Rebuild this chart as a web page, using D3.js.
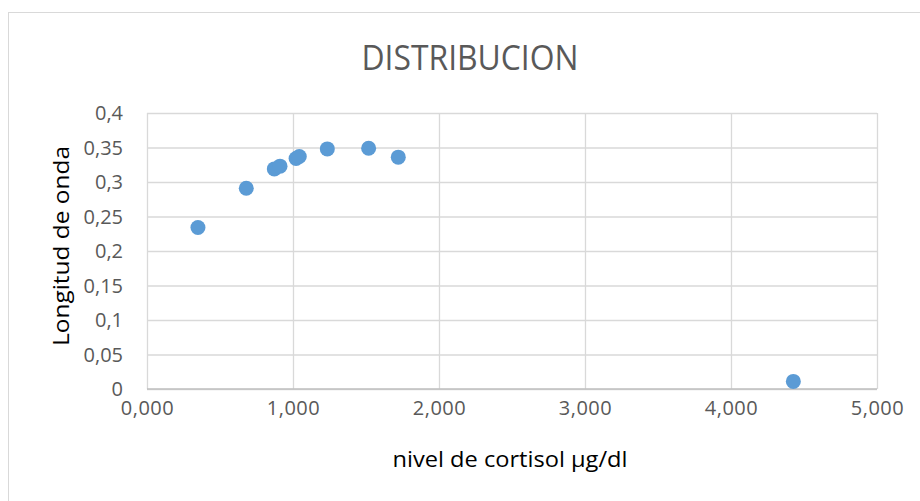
<!DOCTYPE html>
<html>
<head>
<meta charset="utf-8">
<script src="https://cdn.jsdelivr.net/npm/d3@7"></script>
<style>
  html, body { margin: 0; padding: 0; background: #fff; }
  svg { display: block; }
</style>
</head>
<body>
<script>
const titleText = "DISTRIBUCION";
const xTitle = "nivel de cortisol µg/dl";
const yTitle = "Longitud de onda";
const cortisol = [349, 680, 872, 911, 1021, 1043, 1235, 1518, 1721, 4427];
const longitud = [0.234, 0.291, 0.319, 0.323, 0.334, 0.337, 0.348, 0.349, 0.336, 0.011];
const xTicks = [0, 1000, 2000, 3000, 4000, 5000];
const yTicks = [0, 0.05, 0.1, 0.15, 0.2, 0.25, 0.3, 0.35, 0.4];

const W = 920, H = 501;
const svg = d3.select("body").append("svg").attr("width", W).attr("height", H);

// outer chart border
svg.append("rect").attr("x", 8.5).attr("y", 12.5).attr("width", 940).attr("height", 520)
  .attr("fill", "#fff").attr("stroke", "#d9d9d9").attr("stroke-width", 1);

const pL = 147, pR = 877, pT = 113, pB = 389;
const x = d3.scaleLinear().domain([0, 5000]).range([pL, pR]);
const y = d3.scaleLinear().domain([0, 0.4]).range([pB, pT]);

const fmtX = v => d3.format(".3f")(v / 1000).replace(".", ",");
const fmtY = v => String(+v.toFixed(2)).replace(".", ",");

// gridlines
const gy = svg.append("g").attr("transform", `translate(${pL},0)`)
  .call(d3.axisLeft(y).tickValues(yTicks).tickSize(-(pR - pL)).tickFormat(fmtY).tickPadding(24));
gy.select(".domain").remove();
gy.selectAll(".tick line").attr("stroke", "#d9d9d9").attr("stroke-width", 1.3);
gy.selectAll(".tick text").attr("fill", "#595959").attr("font-family", "Open Sans, sans-serif")
  .attr("font-size", 20).attr("dy", "0.34em");

const gx = svg.append("g").attr("transform", `translate(0,${pB})`)
  .call(d3.axisBottom(x).tickValues(xTicks).tickSize(-(pB - pT)).tickFormat(fmtX).tickPadding(12));
gx.select(".domain").remove();
gx.selectAll(".tick line").attr("stroke", "#d9d9d9").attr("stroke-width", 1.3);
gx.selectAll(".tick text").attr("fill", "#595959").attr("font-family", "Open Sans, sans-serif")
  .attr("font-size", 20).attr("letter-spacing", "0.5px");

// bottom axis line
svg.append("line").attr("x1", pL).attr("x2", pR).attr("y1", pB).attr("y2", pB)
  .attr("stroke", "#bfbfbf").attr("stroke-width", 1.5);

// points
svg.append("g").selectAll("circle").data(cortisol.map((c, i) => [c, longitud[i]]))
  .join("circle")
  .attr("cx", d => x(d[0])).attr("cy", d => y(d[1])).attr("r", 7.5)
  .attr("fill", "#5b9bd5");

// title
svg.append("text").attr("x", 470).attr("y", 70).attr("text-anchor", "middle")
  .attr("font-family", "Open Sans, sans-serif").attr("font-size", 34).attr("fill", "#595959")
  .attr("textLength", 217).attr("lengthAdjust", "spacingAndGlyphs").text(titleText);

// axis titles
svg.append("text").attr("x", 510).attr("y", 467).attr("text-anchor", "middle")
  .attr("font-family", "Open Sans, sans-serif").attr("font-size", 21).attr("fill", "#000")
  .attr("textLength", 235).attr("lengthAdjust", "spacingAndGlyphs").text(xTitle);

svg.append("text").attr("transform", "translate(69,246) rotate(-90)").attr("text-anchor", "middle")
  .attr("font-family", "Open Sans, sans-serif").attr("font-size", 21).attr("fill", "#000")
  .attr("textLength", 200).attr("lengthAdjust", "spacingAndGlyphs").text(yTitle);
</script>
</body>
</html>
